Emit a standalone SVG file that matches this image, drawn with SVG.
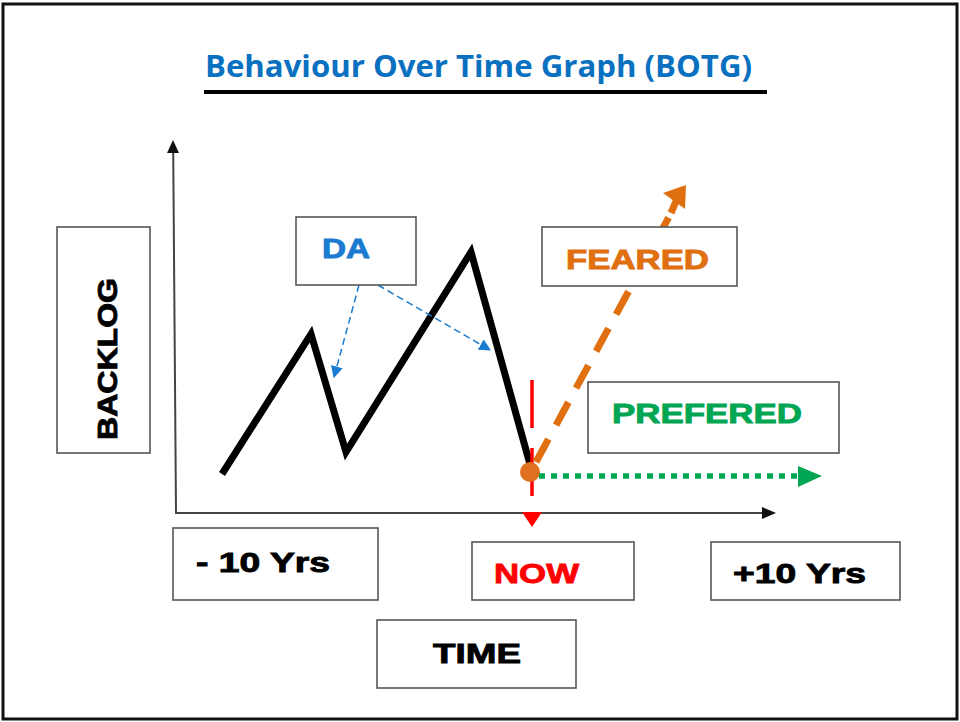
<svg xmlns="http://www.w3.org/2000/svg" width="960" height="722" viewBox="0 0 960 722">
<defs>
<style>
.box{fill:#fff;stroke:#555;stroke-width:1.6}
.lbl{font-family:"Liberation Sans",Arial,sans-serif;font-weight:bold;font-size:28px;stroke-width:0.9px;paint-order:stroke}
</style>
<marker id="dah" viewBox="0 0 10 10" refX="9" refY="5" markerWidth="12" markerHeight="12" orient="auto" markerUnits="userSpaceOnUse">
<path d="M0,0 L10,5 L0,10 z" fill="#1a7bd0"/>
</marker>
</defs>
<rect x="0" y="0" width="960" height="722" fill="#fff"/>
<rect x="3" y="4" width="954" height="715" fill="none" stroke="#111" stroke-width="3"/>
<g id="title">
<text x="205" y="77" fill="#0a70c0" font-family="'Open Sans','Noto Sans',sans-serif" font-weight="700" font-size="30" textLength="547" lengthAdjust="spacingAndGlyphs">Behaviour Over Time Graph (BOTG)</text>
<rect x="204" y="90" width="563" height="4" fill="#000"/>
</g>
<g id="connectors">
<line x1="176" y1="513" x2="173.2" y2="150" stroke="#444" stroke-width="2"/>
<path d="M167,153 L173,140 L179,153 z" fill="#111"/>
<line x1="175" y1="513" x2="764" y2="513" stroke="#444" stroke-width="2"/>
<path d="M762,507 L776,513 L762,519 z" fill="#111"/>
<polyline points="222,474 311,334 346,452 471,252 531,468" fill="none" stroke="#000" stroke-width="7" stroke-linejoin="miter"/>
<line x1="359" y1="285" x2="334" y2="377" stroke="#1a7bd0" stroke-width="1.5" stroke-dasharray="7,4" marker-end="url(#dah)"/>
<line x1="378" y1="285" x2="490" y2="350" stroke="#1a7bd0" stroke-width="1.5" stroke-dasharray="7,4" marker-end="url(#dah)"/>
<line x1="532" y1="380" x2="532" y2="498" stroke="#f00" stroke-width="3.5" stroke-dasharray="48,20"/>
<path d="M522,512 L542,512 L532,527 z" fill="#f00"/>
<line x1="536" y1="462" x2="670" y2="215" stroke="#e0700f" stroke-width="7" stroke-dasharray="26,16"/>
<path d="M663,193 L686,185 L685,209 z" fill="#e0700f"/>
<line x1="671" y1="213" x2="677" y2="199" stroke="#e0700f" stroke-width="7"/>
<circle cx="530" cy="472" r="10" fill="#e07020"/>
<line x1="539" y1="476" x2="800" y2="476" stroke="#00a651" stroke-width="5.5" stroke-dasharray="6,6"/>
<path d="M798,466 L822,476 L798,487 z" fill="#00a651"/>
</g>
<g id="backlog">
<rect class="box" x="57" y="227" width="93" height="226"/>
<text class="lbl" transform="translate(117,359) rotate(-90)" text-anchor="middle" font-size="31" textLength="162" lengthAdjust="spacingAndGlyphs" fill="#000" stroke="#000">BACKLOG</text>
</g>
<g id="da">
<rect class="box" x="296" y="217" width="120" height="68"/>
<text class="lbl" x="322" y="258" fill="#1a7bd0" stroke="#1a7bd0" textLength="48" lengthAdjust="spacingAndGlyphs">DA</text>
</g>
<g id="feared">
<rect class="box" x="542" y="227" width="195" height="59"/>
<text class="lbl" x="566" y="269" fill="#e0700f" stroke="#e0700f" font-size="29" textLength="143" lengthAdjust="spacingAndGlyphs">FEARED</text>
</g>
<g id="prefered">
<rect class="box" x="588" y="382" width="251" height="71"/>
<text class="lbl" x="612" y="423" fill="#00a651" stroke="#00a651" textLength="190" lengthAdjust="spacingAndGlyphs">PREFERED</text>
</g>
<g id="minus10">
<rect class="box" x="173" y="528" width="205" height="72"/>
<text class="lbl" x="196" y="572" fill="#000" stroke="#000" textLength="134" lengthAdjust="spacingAndGlyphs">- 10 Yrs</text>
</g>
<g id="now">
<rect class="box" x="472" y="542" width="162" height="58"/>
<text class="lbl" x="494" y="583" fill="#f00" stroke="#f00" textLength="85" lengthAdjust="spacingAndGlyphs">NOW</text>
</g>
<g id="plus10">
<rect class="box" x="711" y="542" width="189" height="58"/>
<text class="lbl" x="733" y="583" fill="#000" stroke="#000" textLength="133" lengthAdjust="spacingAndGlyphs">+10 Yrs</text>
</g>
<g id="time">
<rect class="box" x="377" y="620" width="199" height="68"/>
<text class="lbl" x="433" y="663" fill="#000" stroke="#000" font-size="30" textLength="88" lengthAdjust="spacingAndGlyphs">TIME</text>
</g>
</svg>
